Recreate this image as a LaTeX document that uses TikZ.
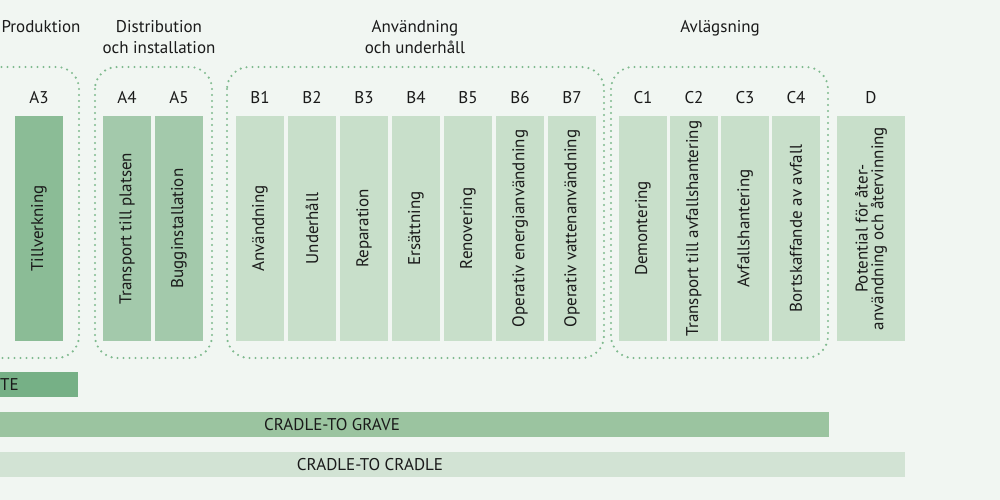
\documentclass[tikz,border=0pt]{standalone}
\usepackage{fontspec}
\setmainfont{PT Sans}
\usepackage{graphicx}
\usetikzlibrary{positioning}
\usetikzlibrary{chains}
\usetikzlibrary{calc}

\definecolor{bgcol}{HTML}{F1F6F2}
\definecolor{txtcol}{HTML}{1A1A1A}
\definecolor{prodcol}{HTML}{8BBC96}
\definecolor{distcol}{HTML}{A3C9AB}
\definecolor{usecol}{HTML}{C8DFCA}
\definecolor{gatecol}{HTML}{76B086}
\definecolor{gravecol}{HTML}{9BC4A0}
\definecolor{cradlecol}{HTML}{D2E3D4}
\definecolor{dotcol}{HTML}{80BA8F}

\newcommand{\vtext}[1]{\rotatebox{90}{#1}}

\begin{document}
\begin{tikzpicture}[x=1pt,y=-1pt]
      \tikzstyle{every node}=[font=\fontsize{17}{20.5}\selectfont,text=txtcol]
      \tikzstyle{stage}=[minimum width=48pt,minimum height=225pt,inner sep=0pt,outer sep=0pt]
      \tikzstyle{modlabel}=[label distance=12pt,inner sep=0pt]
      \tikzstyle{group}=[draw=dotcol,line width=2.4pt,dash pattern=on 0pt off 6pt,line cap=round,rounded corners=22pt]
      \tikzstyle{bar}=[minimum height=25pt,inner sep=0pt,outer sep=0pt]
      \tikzstyle{header}=[align=center,inner sep=0pt,anchor=north]

      \fill[bgcol] (0,0) rectangle (1000,500);
      \useasboundingbox (0,0) rectangle (1000,500);
      \clip (0,0) rectangle (1000,500);

      \node [header] at (41,20.5) (hprod) {Produktion};
      \node [header] at (159,20.5) (hdist) {Distribution\\och installation};
      \node [header] at (415,20.5) (hanv) {Användning\\och underhåll};
      \node [header] at (720,20.5) (havl) {Avlägsning};

      \begin{scope}[start chain=1 going right,node distance=4pt]
        \node [on chain=1,stage,fill=prodcol,label={[modlabel]above:A3}] at (39,228.5) (a3) {\vtext{Tillverkning}};
      \end{scope}

      \begin{scope}[start chain=2 going right,node distance=4pt]
        \node [on chain=2,stage,fill=distcol,label={[modlabel]above:A4}] at (127,228.5) (a4) {\vtext{Transport till platsen}};
        \node [on chain=2,stage,fill=distcol,label={[modlabel]above:A5}] (a5) {\vtext{Bugginstallation}};
      \end{scope}

      \begin{scope}[start chain=3 going right,node distance=4pt]
        \node [on chain=3,stage,fill=usecol,label={[modlabel]above:B1}] at (260,228.5) (b1) {\vtext{Användning}};
        \node [on chain=3,stage,fill=usecol,label={[modlabel]above:B2}] (b2) {\vtext{Underhåll}};
        \node [on chain=3,stage,fill=usecol,label={[modlabel]above:B3}] (b3) {\vtext{Reparation}};
        \node [on chain=3,stage,fill=usecol,label={[modlabel]above:B4}] (b4) {\vtext{Ersättning}};
        \node [on chain=3,stage,fill=usecol,label={[modlabel]above:B5}] (b5) {\vtext{Renovering}};
        \node [on chain=3,stage,fill=usecol,label={[modlabel]above:B6}] (b6) {\vtext{Operativ energianvändning}};
        \node [on chain=3,stage,fill=usecol,label={[modlabel]above:B7}] (b7) {\vtext{Operativ vattenanvändning}};
      \end{scope}

      \begin{scope}[start chain=4 going right,node distance=3pt]
        \node [on chain=4,stage,fill=usecol,label={[modlabel]above:C1}] at (643,228.5) (c1) {\vtext{Demontering}};
        \node [on chain=4,stage,fill=usecol,label={[modlabel]above:C2}] (c2) {\vtext{Transport till avfallshantering}};
        \node [on chain=4,stage,fill=usecol,label={[modlabel]above:C3}] (c3) {\vtext{Avfallshantering}};
        \node [on chain=4,stage,fill=usecol,label={[modlabel]above:C4}] (c4) {\vtext{Bortskaffande av avfall}};
      \end{scope}

      \node [stage,minimum width=68pt,fill=usecol,label={[modlabel]above:D}] at (871,228.5) (d) {\vtext{\shortstack{Potential för åter-\\användning och återvinning}}};

      \draw [group] (-200,67) rectangle (79,358);
      \draw [group] ($(a4.north west)+(-8,-49)$) rectangle ($(a5.south east)+(9,17)$);
      \draw [group] ($(b1.north west)+(-9,-49)$) rectangle ($(b7.south east)+(8,17)$);
      \draw [group] ($(c1.north west)+(-8,-49)$) rectangle ($(c4.south east)+(8,17)$);

      \node [bar,fill=gatecol,minimum width=243pt] at (-43.5,384.5) (gate) {};
      \node [anchor=west,inner sep=0pt] at (0,384.5) (gatetxt) {TE};
      \node [bar,fill=gravecol,minimum width=994pt] at (332,424.5) (grave) {CRADLE-TO GRAVE};
      \node [bar,fill=cradlecol,minimum width=1070pt] at (370,464.5) (cradle) {CRADLE-TO CRADLE};
    \end{tikzpicture}
\end{document}
